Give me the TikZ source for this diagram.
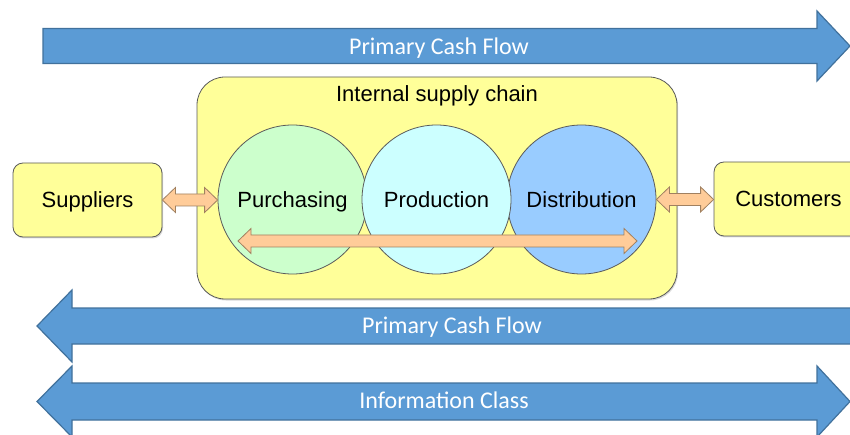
\documentclass[tikz,border=0pt]{standalone}
\usepackage{fontspec}
\setmainfont{Liberation Sans}
\newfontfamily\flowfont{Carlito}
\usetikzlibrary{calc,shadows}

\definecolor{boxyellow}{HTML}{FFFF99}
\definecolor{boxline}{HTML}{5A5A5A}
\definecolor{buygreen}{HTML}{CCFFCC}
\definecolor{makecyan}{HTML}{CCFFFF}
\definecolor{shipblue}{HTML}{99CCFF}
\definecolor{flowblue}{HTML}{5B9BD5}
\definecolor{flowedge}{HTML}{41719C}
\definecolor{peach}{HTML}{FFCC99}
\definecolor{peachedge}{HTML}{A08060}

\newcommand{\pairarrow}[2]{%
  \draw[linkarrow] let \p1=(#1), \p2=(#2) in
    (\x1,\y1) -- (\x1+13pt,\y1-12.5pt) -- (\x1+13pt,\y1-6pt) -- (\x2-13pt,\y1-6pt)
    -- (\x2-13pt,\y1-12.5pt) -- (\x2,\y1) -- (\x2-13pt,\y1+12.5pt) -- (\x2-13pt,\y1+6pt)
    -- (\x1+13pt,\y1+6pt) -- (\x1+13pt,\y1+12.5pt) -- cycle;}

\begin{document}
\begin{tikzpicture}[x=1pt, y=-1pt,
    boxtext/.style={font=\fontsize{22}{26}\selectfont, text height=16pt, text depth=0pt},
    box/.style={boxtext, draw=boxline, line width=0.8pt, fill=boxyellow, rounded corners=10pt,
      minimum width=149pt, minimum height=74pt,
      drop shadow={opacity=0.3, shadow xshift=1pt, shadow yshift=-1.5pt}},
    part/.style={circle, draw=boxline, line width=0.8pt, minimum size=149pt},
    bigarrow/.style={draw=flowedge, line width=1.2pt, fill=flowblue},
    flowlabel/.style={text=white, font=\flowfont\fontsize{24}{28}\selectfont,
      text height=17pt, text depth=0pt},
    linkarrow/.style={draw=peachedge, line width=0.8pt, fill=peach}]
  \useasboundingbox (0,0) rectangle (850,435);
  \clip (0,0) rectangle (850,435);

  \draw[bigarrow] (43,28.5) -- (817,28.5) -- (817,11) -- (850,46) -- (817,81)
    -- (817,63.5) -- (43,63.5) -- cycle;
  \node[flowlabel] (cashtop) at (439,46) {Primary Cash Flow};

  \node[box, minimum width=480pt, minimum height=222pt, rounded corners=28pt] (chain) at (437,188) {};
  \node[boxtext] (chaintitle) at (437,94) {Internal supply chain};

  \node[part, fill=buygreen] (purch) at (292.5,199.5) {};
  \node[part, fill=shipblue] (dist) at (581.5,199.5) {};
  \node[part, fill=makecyan] (prod) at (436.5,199.5) {};
  \node[boxtext] at (purch) {Purchasing};
  \node[boxtext] at (prod) {Production};
  \node[boxtext] at (dist) {Distribution};

  \coordinate (innerL) at (238,241);
  \coordinate (innerR) at (637,241);
  \pairarrow{innerL}{innerR}

  \node[box] (supp) at (87.5,200) {Suppliers};
  \node[box] (cust) at (788.5,199) {Customers};
  \pairarrow{supp.east}{purch.west}
  \pairarrow{dist.east}{cust.west}

  \draw[bigarrow] (880,308) -- (72,308) -- (72,290) -- (37,326) -- (72,362)
    -- (72,344) -- (880,344) -- cycle;
  \node[flowlabel] (cashbot) at (452,325) {Primary Cash Flow};

  \draw[bigarrow] (72,383) -- (817,383) -- (817,366) -- (850,401.5) -- (817,437)
    -- (817,420) -- (72,420) -- (72,437) -- (37,401.5) -- (72,366) -- cycle;
  \node[flowlabel] (info) at (444,400) {Information Class};
\end{tikzpicture}
\end{document}
